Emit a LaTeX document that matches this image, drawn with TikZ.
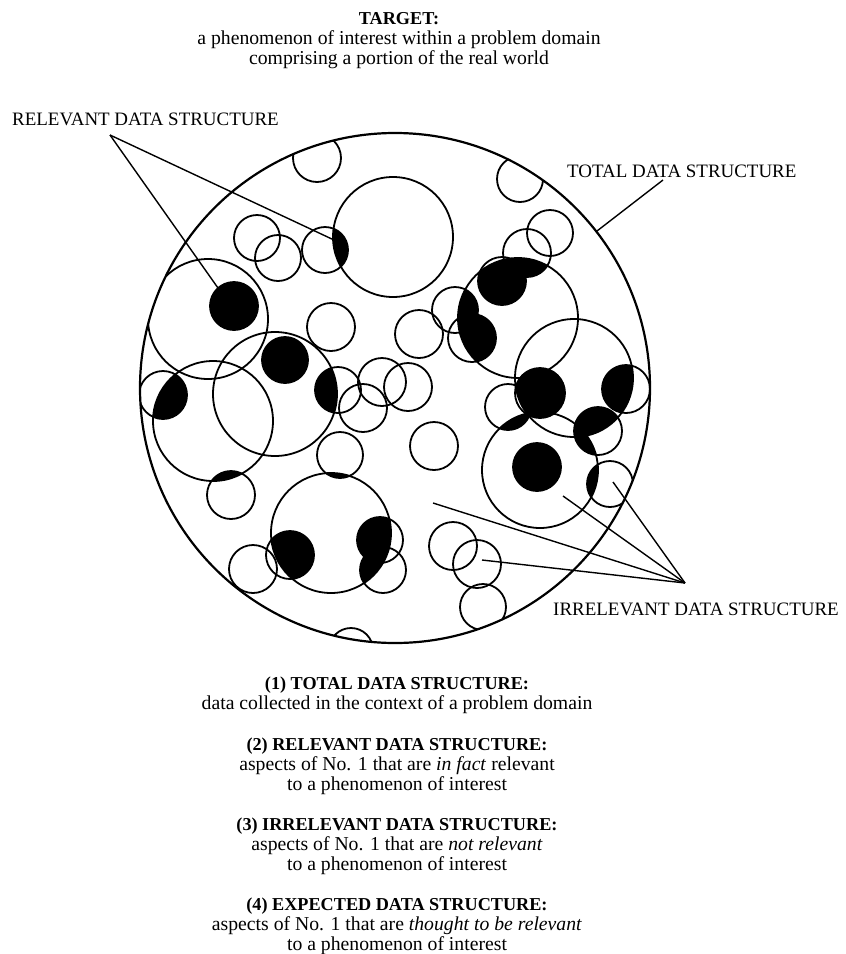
\documentclass[tikz,border=0pt]{standalone}
\usepackage{fontspec}
\setmainfont{Liberation Serif}
\usepackage{tikz}
\usetikzlibrary{positioning}

% data items inside the total structure: x/y/radius
\newcommand{\dataitems}{317/158/24, 520/179/23, 257/238/23, 278/258/23, 325/250/23,
  331/327/24, 234/306/24, 285/360/23, 163/395/24, 338/390/23, 363/408/24, 382/382/24,
  408/387/24, 419/334/24, 434/446/24, 340/455/23, 231/495/24, 290/555/24, 253/569/24,
  380/540/23, 383/570/23, 351/650/22, 453/546/24, 477/564/24, 483/607/23, 455/310/23,
  472/338/24, 502/281/24, 527/253/24, 550/233/23, 540/393/25, 508/407/23, 626/389/24,
  598/431/24, 537/467/24, 610/484/23}
% phenomena of interest: x/y/radius
\newcommand{\targetitems}{393/237/60, 208/319/60, 275/394/62, 213/421/60, 331/533/60,
  518/318/60, 574/378/59, 540/470/58}
% bold caption heads are set a little smaller
\newcommand{\capthead}[1]{{\fontsize{18.2}{20}\selectfont\bfseries #1}}

\begin{document}
\begin{tikzpicture}[
    x=1pt, y=-1pt,
    ring/.style={line width=1.8pt},
    bigring/.style={line width=2.2pt},
    pointer/.style={line width=1.4pt},
    datalabel/.style={font=\fontsize{18.95}{20}\selectfont, inner sep=0pt},
    captiontext/.style={font=\fontsize{19.7}{20}\selectfont, align=center, inner sep=0pt}
]
    \useasboundingbox (0,0) rectangle (846,954);
    \coordinate (total) at (395,388);

    % relevant parts = data items inside a phenomenon
    \begin{scope}
        \clip (total) circle (255pt);
        \foreach \tx/\ty/\tr in \targetitems {
            \begin{scope}
                \clip (\tx,\ty) circle (\tr pt);
                \foreach \dx/\dy/\dr in \dataitems
                    \fill (\dx,\dy) circle (\dr pt);
            \end{scope}
        }
        \foreach \dx/\dy/\dr in \dataitems
            \draw[ring] (\dx,\dy) circle (\dr pt);
        \foreach \tx/\ty/\tr in \targetitems
            \draw[ring] (\tx,\ty) circle (\tr pt);
    \end{scope}
    \draw[bigring] (total) circle (255pt);

    % labels round the circle
    \node[datalabel, anchor=base west] (relevant) at (12,125) {RELEVANT DATA STRUCTURE};
    \node[datalabel, anchor=base west] (totallabel) at (567,177) {TOTAL DATA STRUCTURE};
    \node[datalabel, anchor=base west] (irrelevant) at (553,615) {IRRELEVANT DATA STRUCTURE};

    \coordinate (relfork) at (110,135);
    \coordinate (relA) at (218,288);
    \coordinate (relB) at (334,240);
    \draw[pointer] (relfork) -- (relA);
    \draw[pointer] (relfork) -- (relB);

    \coordinate (totfork) at (663,180);
    \coordinate (totA) at (597,231);
    \draw[pointer] (totfork) -- (totA);

    \coordinate (irrfork) at (685,583);
    \coordinate (irrA) at (433,503);
    \coordinate (irrB) at (482,560);
    \coordinate (irrC) at (563,496);
    \coordinate (irrD) at (613,482);
    \draw[pointer] (irrfork) -- (irrA);
    \draw[pointer] (irrfork) -- (irrB);
    \draw[pointer] (irrfork) -- (irrC);
    \draw[pointer] (irrfork) -- (irrD);

    % captions
    \node[captiontext, anchor=north] (target) at (399,12) {\capthead{TARGET:}\\a phenomenon of interest within a problem domain\\comprising a portion of the real world};
    \node[captiontext, anchor=north] (cap1) at (397,677) {\capthead{(1) TOTAL DATA STRUCTURE:}\\data collected in the context of a problem domain};
    \node[captiontext, anchor=north] (cap2) at (397,738) {\capthead{(2) RELEVANT DATA STRUCTURE:}\\aspects of No. 1 that are \textit{in fact} relevant\\to a phenomenon of interest};
    \node[captiontext, anchor=north] (cap3) at (397,818) {\capthead{(3) IRRELEVANT DATA STRUCTURE:}\\aspects of No. 1 that are \textit{not relevant}\\to a phenomenon of interest};
    \node[captiontext, anchor=north] (cap4) at (397,898) {\capthead{(4) EXPECTED DATA STRUCTURE:}\\aspects of No. 1 that are \textit{thought to be relevant}\\to a phenomenon of interest};
\end{tikzpicture}
\end{document}
